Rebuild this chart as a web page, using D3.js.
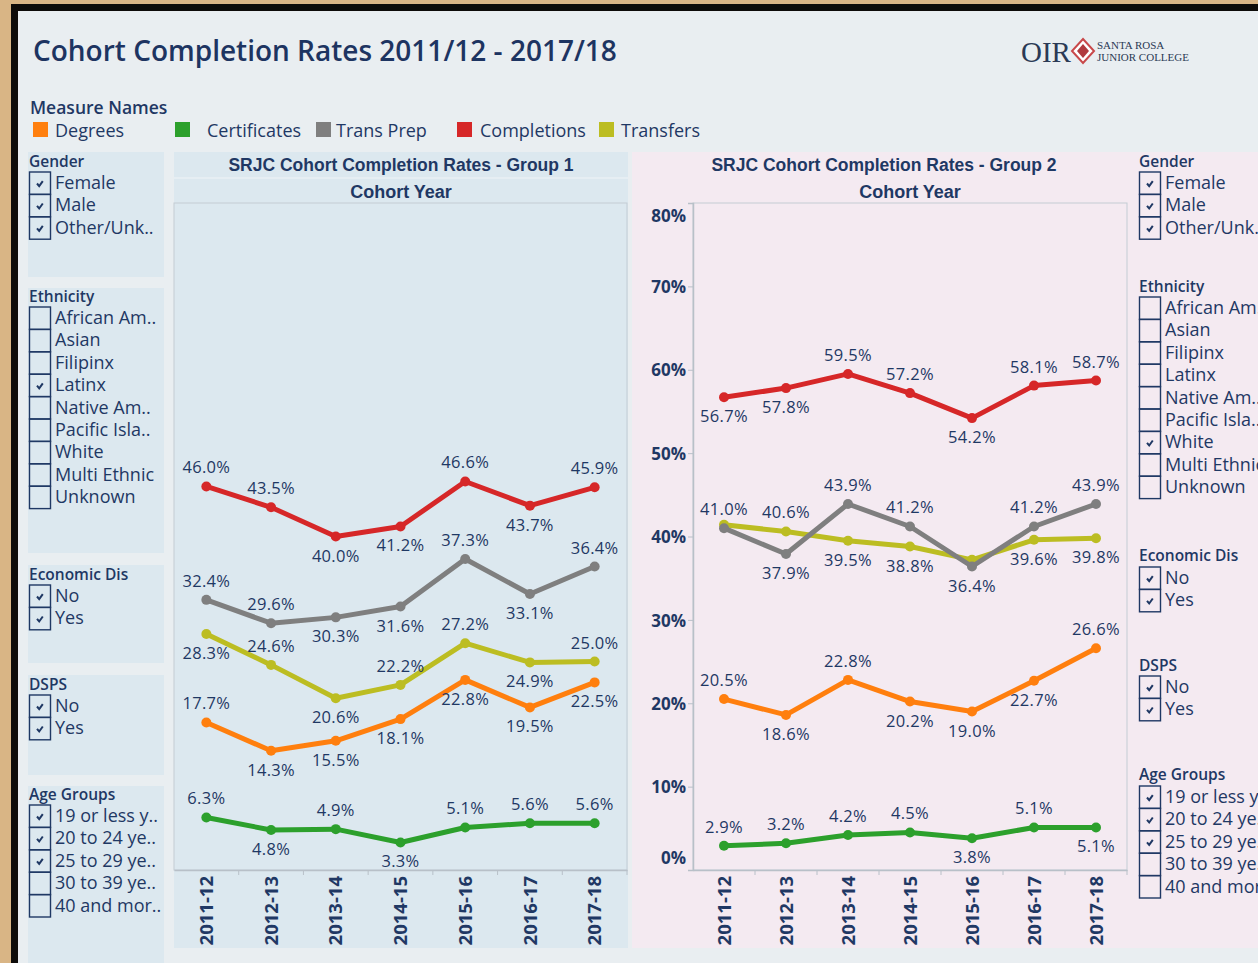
<!DOCTYPE html>
<html>
<head>
<meta charset="utf-8">
<script src="https://cdn.jsdelivr.net/npm/d3@7"></script>
<style>
  body { margin: 0; }
  text { font-family: "Open Sans", sans-serif; }
</style>
</head>
<body>
<div id="chart"></div>
<script>
// ---- data ----
var years = ["2011-12", "2012-13", "2013-14", "2014-15", "2015-16", "2016-17", "2017-18"];
var measures = ["Degrees", "Certificates", "Trans Prep", "Completions", "Transfers"];
var measureColors = ["#ff7f0e", "#2ca02c", "#7f7f7f", "#d62728", "#bcbd22"];
var yTicks = [0, 10, 20, 30, 40, 50, 60, 70, 80];

// group 1
var g1Degrees      = [17.7, 14.3, 15.5, 18.1, 22.8, 19.5, 22.5];
var g1Certificates = [6.3, 4.8, 4.9, 3.3, 5.1, 5.6, 5.6];
var g1TransPrep    = [32.4, 29.6, 30.3, 31.6, 37.3, 33.1, 36.4];
var g1Completions  = [46.0, 43.5, 40.0, 41.2, 46.6, 43.7, 45.9];
var g1Transfers    = [28.3, 24.6, 20.6, 22.2, 27.2, 24.9, 25.0];

// group 2
var g2Degrees      = [20.5, 18.6, 22.8, 20.2, 19.0, 22.7, 26.6];
var g2Certificates = [2.9, 3.2, 4.2, 4.5, 3.8, 5.1, 5.1];
var g2TransPrep    = [41.0, 37.9, 43.9, 41.2, 36.4, 41.2, 43.9];
var g2Completions  = [56.7, 57.8, 59.5, 57.2, 54.2, 58.1, 58.7];
var g2Transfers    = [41.4, 40.6, 39.5, 38.8, 37.2, 39.6, 39.8];

// label placement: a = above, b = below, "" = hidden (overlap)
var g1Place = {
    "Degrees":      ["a", "b", "b", "b", "b", "b", "b"],
    "Certificates": ["a", "b", "a", "b", "a", "a", "a"],
    "Trans Prep":   ["a", "a", "b", "b", "a", "b", "a"],
    "Completions":  ["a", "a", "b", "b", "a", "b", "a"],
    "Transfers":    ["b", "a", "b", "a", "a", "b", "a"]
};
var g2Place = {
    "Degrees":      ["a", "b", "a", "b", "b", "b", "a"],
    "Certificates": ["a", "a", "a", "a", "b", "a", "b"],
    "Trans Prep":   ["a", "b", "a", "a", "b", "a", "a"],
    "Completions":  ["b", "b", "a", "a", "b", "a", "a"],
    "Transfers":    ["",  "a", "b", "b", "",  "b", "b"]
};

// filter cards
var genderItems = ["Female", "Male", "Other/Unk.."];
var ethnicityItems = ["African Am..", "Asian", "Filipinx", "Latinx", "Native Am..", "Pacific Isla..", "White", "Multi Ethnic", "Unknown"];
var econItems = ["No", "Yes"];
var dspsItems = ["No", "Yes"];
var ageItems = ["19 or less y..", "20 to 24 ye..", "25 to 29 ye..", "30 to 39 ye..", "40 and mor.."];

var navy = "#1f3864";
var W = 1258, H = 963;

var svg = d3.select("#chart").append("svg")
    .attr("width", W)
    .attr("height", H);

// frame
svg.append("rect").attr("width", W).attr("height", H).attr("fill", "#d9b585");
svg.append("rect").attr("x", 11).attr("y", 4).attr("width", W).attr("height", H).attr("fill", "#0d0b09");
svg.append("rect").attr("x", 18).attr("y", 11).attr("width", W).attr("height", H).attr("fill", "#e9eef1");

// title
svg.append("text")
    .attr("x", 33).attr("y", 61)
    .style("font-size", "28px")
    .style("font-weight", "600")
    .style("fill", "#1d3461")
    .text("Cohort Completion Rates 2011/12 - 2017/18");

// logo
svg.append("text")
    .attr("x", 1021).attr("y", 62)
    .style("font-family", "Liberation Serif")
    .style("font-size", "29px")
    .style("fill", "#2b3a55")
    .text("OIR");
svg.append("path")
    .attr("d", "M1083,39 L1094,51 L1083,63 L1072,51 Z")
    .attr("fill", "#fff").attr("stroke", "#c8484a").attr("stroke-width", 2);
svg.append("path")
    .attr("d", "M1083,44 L1089,51 L1083,58 L1077,51 Z")
    .attr("fill", "#b03a3e");
svg.append("text")
    .attr("x", 1097).attr("y", 49)
    .style("font-family", "Liberation Serif")
    .style("font-size", "11px")
    .style("fill", "#2b3a55")
    .text("SANTA ROSA");
svg.append("text")
    .attr("x", 1097).attr("y", 61)
    .style("font-family", "Liberation Serif")
    .style("font-size", "11px")
    .style("fill", "#2b3a55")
    .text("JUNIOR COLLEGE");

// legend
svg.append("text")
    .attr("x", 30).attr("y", 114)
    .style("font-size", "17.5px")
    .style("font-weight", "600")
    .style("fill", navy)
    .text("Measure Names");
var legendX = [33, 175, 316, 457, 599];
var legendTextX = [55, 207, 336, 480, 621];
var leg = svg.selectAll(".leg").data(measures).enter().append("g").attr("class", "leg");
leg.append("rect")
    .attr("x", function(d, i) { return legendX[i]; })
    .attr("y", 122).attr("width", 15).attr("height", 15)
    .attr("fill", function(d, i) { return measureColors[i]; });
leg.append("text")
    .attr("x", function(d, i) { return legendTextX[i]; })
    .attr("y", 137)
    .style("font-size", "18px")
    .style("fill", navy)
    .text(function(d) { return d; });

// panel backgrounds
svg.append("rect").attr("x", 632).attr("y", 152).attr("width", W - 632).attr("height", 796).attr("fill", "#f4eaf1");
svg.append("rect").attr("x", 174).attr("y", 152).attr("width", 454).attr("height", 796).attr("fill", "#dce8ef");
svg.append("rect").attr("x", 174).attr("y", 177).attr("width", 454).attr("height", 2).attr("fill", "#e6eef3");

// left filter cards
var leftCards = [
    {title: "Gender", items: genderItems, checked: [0, 1, 2], top: 152, bottom: 277, ty: 162, iy: 183},
    {title: "Ethnicity", items: ethnicityItems, checked: [3], top: 288, bottom: 553, ty: 297, iy: 318},
    {title: "Economic Dis", items: econItems, checked: [0, 1], top: 565, bottom: 663, ty: 575, iy: 596},
    {title: "DSPS", items: dspsItems, checked: [0, 1], top: 675, bottom: 775, ty: 685, iy: 706},
    {title: "Age Groups", items: ageItems, checked: [0, 1, 2], top: 786, bottom: 963, ty: 795, iy: 816}
];
var rightCards = [
    {title: "Gender", items: genderItems, checked: [0, 1, 2], ty: 162, iy: 183},
    {title: "Ethnicity", items: ethnicityItems, checked: [6], ty: 287, iy: 308},
    {title: "Economic Dis", items: econItems, checked: [0, 1], ty: 556, iy: 578},
    {title: "DSPS", items: dspsItems, checked: [0, 1], ty: 666, iy: 687},
    {title: "Age Groups", items: ageItems, checked: [0, 1, 2], ty: 775, iy: 797}
];

leftCards.forEach(function(c) {
    svg.append("rect").attr("x", 28).attr("y", c.top).attr("width", 136)
        .attr("height", c.bottom - c.top).attr("fill", "#dce8ef");
});

function drawCard(c, bx) {
    var g = svg.append("g");
    g.append("text")
        .attr("x", bx).attr("y", c.ty + 5)
        .style("font-size", "15.5px")
        .style("font-weight", "600")
        .style("fill", navy)
        .text(c.title);
    var step = 22.4;
    c.items.forEach(function(item, i) {
        var cy = c.iy + i * step;
        g.append("rect")
            .attr("x", bx + 0.5).attr("y", cy - 11)
            .attr("width", 21).attr("height", step)
            .attr("fill", "none").attr("stroke", navy).attr("stroke-width", 1.4);
        if (c.checked.indexOf(i) >= 0) {
            g.append("path")
                .attr("d", "M" + (bx + 8) + "," + (cy + 0.5) + " l2.2,2.6 l3.6,-5")
                .attr("fill", "none").attr("stroke", navy).attr("stroke-width", 2);
        }
        g.append("text")
            .attr("x", bx + 26).attr("y", cy + 6)
            .style("font-size", "18px")
            .style("fill", navy)
            .text(item);
    });
}
leftCards.forEach(function(c) { drawCard(c, 29); });
rightCards.forEach(function(c) { drawCard(c, 1139); });

// panel headers
function header(cx, cy, txt, size) {
    svg.append("text")
        .attr("x", cx).attr("y", cy + 6)
        .attr("text-anchor", "middle")
        .style("font-family", "Liberation Sans")
        .style("font-size", size + "px")
        .style("font-weight", "bold")
        .style("fill", navy)
        .text(txt);
}
header(401, 165, "SRJC Cohort Completion Rates - Group 1", 17.5);
header(401, 192, "Cohort Year", 18);
header(884, 165, "SRJC Cohort Completion Rates - Group 2", 17.5);
header(910, 192, "Cohort Year", 18);

// ---- charts ----
var y = d3.scaleLinear().domain([0, 80]).range([870, 203]);

function drawGroup(x0, x1, series, place) {
    var x = d3.scaleBand().domain(years).range([x0, x1]);
    var cx = function(d) { return x(d) + x.bandwidth() / 2; };
    var g = svg.append("g");

    // frame
    g.append("rect")
        .attr("x", x0).attr("y", y(80))
        .attr("width", x1 - x0).attr("height", y(0) - y(80))
        .attr("fill", "none").attr("stroke", "#c3ccd4").attr("stroke-width", 1);

    // x axis
    var xa = g.append("g")
        .attr("transform", "translate(0," + y(0) + ")")
        .call(d3.axisBottom(x).tickSize(0));
    xa.select(".domain").attr("stroke", "#b8c0c8").attr("stroke-width", 1.5);
    xa.selectAll("text")
        .attr("transform", "rotate(-90)")
        .attr("x", -6).attr("y", 0).attr("dy", ".36em")
        .style("text-anchor", "end")
        .style("font-family", "Open Sans")
        .style("font-size", "18.5px")
        .style("font-weight", "bold")
        .style("fill", navy);
    g.selectAll(".edge").data(years.slice(1).concat([null]))
        .enter().append("line")
        .attr("x1", function(d) { return d ? x(d) : x1; })
        .attr("x2", function(d) { return d ? x(d) : x1; })
        .attr("y1", y(0)).attr("y2", y(0) + 5)
        .attr("stroke", "#b8c0c8");

    var lineGen = d3.line()
        .x(function(d) { return cx(d.year); })
        .y(function(d) { return y(d.v); });

    var order = ["Transfers", "Trans Prep", "Completions", "Degrees", "Certificates"];
    order.forEach(function(m) {
        var vals = series[m];
        var col = measureColors[measures.indexOf(m)];
        var pts = years.map(function(yr, i) { return {year: yr, v: vals[i], p: place[m][i]}; });
        g.append("path")
            .datum(pts)
            .attr("d", lineGen)
            .attr("fill", "none")
            .attr("stroke", col)
            .attr("stroke-width", 5)
            .attr("stroke-linejoin", "round");
        g.selectAll(null).data(pts).enter().append("circle")
            .attr("cx", function(d) { return cx(d.year); })
            .attr("cy", function(d) { return y(d.v); })
            .attr("r", 5)
            .attr("fill", col);
    });
    order.forEach(function(m) {
        var vals = series[m];
        var pts = years.map(function(yr, i) { return {year: yr, v: vals[i], p: place[m][i]}; });
        g.selectAll(null).data(pts.filter(function(d) { return d.p; })).enter().append("text")
            .attr("x", function(d) { return cx(d.year); })
            .attr("y", function(d) { return y(d.v) + (d.p === "a" ? -13 : 25); })
            .attr("text-anchor", "middle")
            .style("font-size", "16.5px")
            .style("letter-spacing", "0.3px")
            .style("fill", navy)
            .text(function(d) { return d.v.toFixed(1) + "%"; });
    });
}

drawGroup(174, 627, {
    "Degrees": g1Degrees, "Certificates": g1Certificates, "Trans Prep": g1TransPrep,
    "Completions": g1Completions, "Transfers": g1Transfers
}, g1Place);

drawGroup(693, 1127, {
    "Degrees": g2Degrees, "Certificates": g2Certificates, "Trans Prep": g2TransPrep,
    "Completions": g2Completions, "Transfers": g2Transfers
}, g2Place);

// y axis (shared, drawn between panels)
var ya = svg.append("g")
    .attr("transform", "translate(693,0)")
    .call(d3.axisLeft(y).tickValues(yTicks).tickSize(5).tickFormat(function(d) { return d + "%"; }));
ya.select(".domain").attr("stroke", "#b8c0c8").attr("stroke-width", 1.5);
ya.selectAll(".tick line").attr("stroke", "#b8c0c8");
ya.selectAll(".tick text")
    .attr("x", -7)
    .attr("dy", function(d) { return d === 80 ? "1.1em" : (d === 0 ? "-0.4em" : ".36em"); })
    .style("font-family", "Open Sans")
    .style("font-size", "17px")
    .style("font-weight", "bold")
    .style("fill", navy);
</script>
</body>
</html>
